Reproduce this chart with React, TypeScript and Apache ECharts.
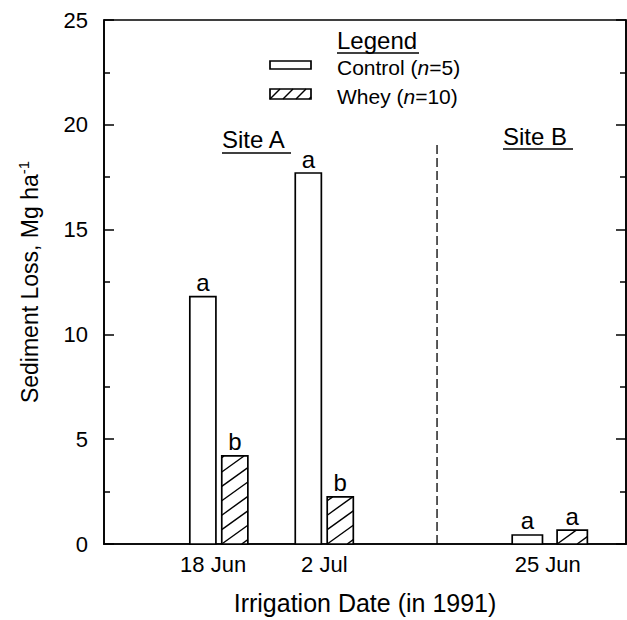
import React, { useEffect, useRef } from 'react';
import * as echarts from 'echarts';

// ---- data ----
const dates = ['18 Jun', '2 Jul', '25 Jun'];
const datePositions = [1.1, 2.11, 4.27];
const dateLabelPositions = [1.045, 2.11, 4.25];
const dateSites = ['A', 'A', 'B'];
const controlValues = [11.8, 17.7, 0.43];
const wheyValues = [4.2, 2.25, 0.66];
const controlLetters = ['a', 'a', 'a'];
const wheyLetters = ['b', 'b', 'a'];
const dividerLine = [[3.19, 0], [3.19, 19.2]];
const yMin = 0;
const yMax = 25;
const yInterval = 5;

// ---- layout / style ----
const FONT = 'Liberation Sans, Arial, Helvetica, sans-serif';
const barGeom: Record<string, { width: number; offset: number }> = {
  A: { width: 0.25, offset: 0.153 },
  B: { width: 0.29, offset: 0.215 },
};
const HATCH_SLOPE = 0.72;
const HATCH_STEP = 20;

function hatchLines(x0: number, yTop: number, w: number, h: number, step: number, slope: number, lw: number) {
  const yb = yTop + h;
  const out: any[] = [];
  const kStart = -h / slope;
  const first = Math.floor(kStart / step) * step;
  for (let k = first; k <= w; k += step) {
    const lo = Math.max(0, k);
    const hi = Math.min(w, k + h / slope);
    if (hi - lo > 0.5) {
      out.push({
        type: 'line',
        shape: { x1: x0 + lo, y1: yb - slope * (lo - k), x2: x0 + hi, y2: yb - slope * (hi - k) },
        style: { stroke: '#000', lineWidth: lw },
        silent: true,
      });
    }
  }
  return out;
}

function makeRender(kind: 'control' | 'whey') {
  return (params: any, api: any) => {
    const x = api.value(0);
    const v = api.value(1);
    const i = api.value(2);
    const g = barGeom[dateSites[i]];
    const sign = kind === 'control' ? -1 : 1;
    const cx = x + sign * g.offset;
    const p0 = api.coord([cx - g.width / 2, v]);
    const p1 = api.coord([cx + g.width / 2, 0]);
    const rx = p0[0];
    const ry = p0[1];
    const rw = p1[0] - p0[0];
    const rh = p1[1] - p0[1];
    const children: any[] = [
      {
        type: 'rect',
        shape: { x: rx, y: ry, width: rw, height: rh },
        style: { fill: '#fff', stroke: 'none' },
      },
    ];
    if (kind === 'whey') {
      children.push(...hatchLines(rx, ry, rw, rh, HATCH_STEP, HATCH_SLOPE, 1.4));
    }
    children.push({
      type: 'rect',
      shape: { x: rx, y: ry, width: rw, height: rh },
      style: { fill: 'none', stroke: '#000', lineWidth: 1.7 },
    });
    const letter = kind === 'control' ? controlLetters[i] : wheyLetters[i];
    children.push({
      type: 'text',
      style: {
        text: letter,
        x: rx + rw / 2,
        y: ry - 2,
        align: 'center',
        verticalAlign: 'bottom',
        fontSize: 24,
        fontFamily: FONT,
        fill: '#000',
      },
    });
    return { type: 'group', children };
  };
}

export default function App() {
  const ref = useRef<HTMLDivElement>(null);
  useEffect(() => {
    if (!ref.current) return;
    const chart = echarts.init(ref.current, null, { renderer: 'svg' });

    const legendHatch = [
      { type: 'rect', shape: { x: 270, y: 89, width: 41, height: 10 }, style: { fill: '#fff', stroke: '#000', lineWidth: 1.7 } },
      ...hatchLines(270, 89, 41, 10, 13, 1.0, 1.5),
    ];

    const option: any = {
      animation: false,
      backgroundColor: '#fff',
      textStyle: { fontFamily: FONT, color: '#000' },
      grid: {
        left: 104,
        right: 1,
        top: 20,
        bottom: 73,
        show: true,
        borderColor: '#000',
        borderWidth: 1.5,
        containLabel: false,
      },
      xAxis: [
        {
          type: 'value',
          min: 0,
          max: 5,
          axisLine: { show: true, onZero: false, lineStyle: { color: '#000', width: 1.7 } },
          axisTick: { show: false },
          splitLine: { show: false },
          axisLabel: {
            customValues: dateLabelPositions,
            formatter: (v: number) => {
              const idx = dateLabelPositions.findIndex((p) => Math.abs(p - v) < 1e-6);
              return idx >= 0 ? dates[idx] : '';
            },
            fontSize: 22,
            fontFamily: FONT,
            color: '#000',
            margin: 9,
          },
          name: 'Irrigation Date (in 1991)',
          nameLocation: 'middle',
          nameGap: 46,
          nameTextStyle: { fontSize: 25, fontFamily: FONT, color: '#000' },
        },
      ],
      yAxis: [
        {
          type: 'value',
          min: yMin,
          max: yMax,
          interval: yInterval,
          position: 'left',
          axisLine: { show: true, lineStyle: { color: '#000', width: 1.7 } },
          axisTick: { show: true, inside: true, length: 10, lineStyle: { color: '#000', width: 1.5 } },
          minorTick: { show: true, splitNumber: 2, length: 6, lineStyle: { color: '#000', width: 1.5 } },
          splitLine: { show: false },
          axisLabel: { fontSize: 22, fontFamily: FONT, color: '#000', margin: 16 },
          name: '{n|Sediment Loss, Mg ha}{s|-1}',
          nameLocation: 'middle',
          nameRotate: 90,
          nameGap: 60,
          nameTextStyle: {
            rich: {
              n: { fontSize: 23, fontFamily: FONT, color: '#000' },
              s: { fontSize: 15, fontFamily: FONT, color: '#000', verticalAlign: 'top', padding: [0, 0, 13, 0] },
            },
          },
        },
        {
          type: 'value',
          min: yMin,
          max: yMax,
          interval: yInterval,
          position: 'right',
          axisLine: { show: true, lineStyle: { color: '#000', width: 1.7 } },
          axisTick: { show: true, inside: true, length: 10, lineStyle: { color: '#000', width: 1.5 } },
          minorTick: { show: true, splitNumber: 2, length: 6, lineStyle: { color: '#000', width: 1.5 } },
          splitLine: { show: false },
          axisLabel: { show: false },
        },
      ],
      series: [
        {
          type: 'custom',
          name: 'Control (n=5)',
          xAxisIndex: 0,
          yAxisIndex: 0,
          renderItem: makeRender('control'),
          encode: { x: 0, y: 1 },
          data: dates.map((_, i) => [datePositions[i], controlValues[i], i]),
          z: 3,
        },
        {
          type: 'custom',
          name: 'Whey (n=10)',
          xAxisIndex: 0,
          yAxisIndex: 0,
          renderItem: makeRender('whey'),
          encode: { x: 0, y: 1 },
          data: dates.map((_, i) => [datePositions[i], wheyValues[i], i]),
          z: 3,
        },
        {
          type: 'line',
          data: dividerLine,
          symbol: 'none',
          silent: true,
          lineStyle: { color: '#000', width: 1.3, type: [9, 4] },
          z: 2,
        },
      ],
      graphic: [
        // legend
        {
          type: 'text',
          style: { text: 'Legend', x: 337, y: 40, verticalAlign: 'middle', fontSize: 24, fontFamily: FONT, fill: '#000' },
        },
        { type: 'line', shape: { x1: 337, y1: 53, x2: 419, y2: 53 }, style: { stroke: '#000', lineWidth: 1.6 } },
        { type: 'rect', shape: { x: 270, y: 61, width: 41, height: 8 }, style: { fill: '#fff', stroke: '#000', lineWidth: 1.7 } },
        {
          type: 'text',
          style: {
            text: '{r|Control (}{i|n}{r|=5)}',
            x: 337,
            y: 67,
            verticalAlign: 'middle',
            rich: {
              r: { fontSize: 21, fontFamily: FONT, fill: '#000' },
              i: { fontSize: 21, fontFamily: FONT, fill: '#000', fontStyle: 'italic' },
            },
          },
        },
        ...legendHatch,
        {
          type: 'text',
          style: {
            text: '{r|Whey (}{i|n}{r|=10)}',
            x: 337,
            y: 96,
            verticalAlign: 'middle',
            rich: {
              r: { fontSize: 21, fontFamily: FONT, fill: '#000' },
              i: { fontSize: 21, fontFamily: FONT, fill: '#000', fontStyle: 'italic' },
            },
          },
        },
        // site labels
        {
          type: 'text',
          style: { text: 'Site A', x: 222, y: 139, verticalAlign: 'middle', fontSize: 24, fontFamily: FONT, fill: '#000' },
        },
        { type: 'line', shape: { x1: 222, y1: 153, x2: 291, y2: 153 }, style: { stroke: '#000', lineWidth: 1.6 } },
        {
          type: 'text',
          style: { text: 'Site B', x: 503, y: 136, verticalAlign: 'middle', fontSize: 24, fontFamily: FONT, fill: '#000' },
        },
        { type: 'line', shape: { x1: 503, y1: 149, x2: 573, y2: 149 }, style: { stroke: '#000', lineWidth: 1.6 } },
      ],
    };
    chart.setOption(option);
    return () => chart.dispose();
  }, []);
  return <div ref={ref} style={{ width: 627, height: 620, position: 'absolute', left: 0, top: 0 }} />;
}
